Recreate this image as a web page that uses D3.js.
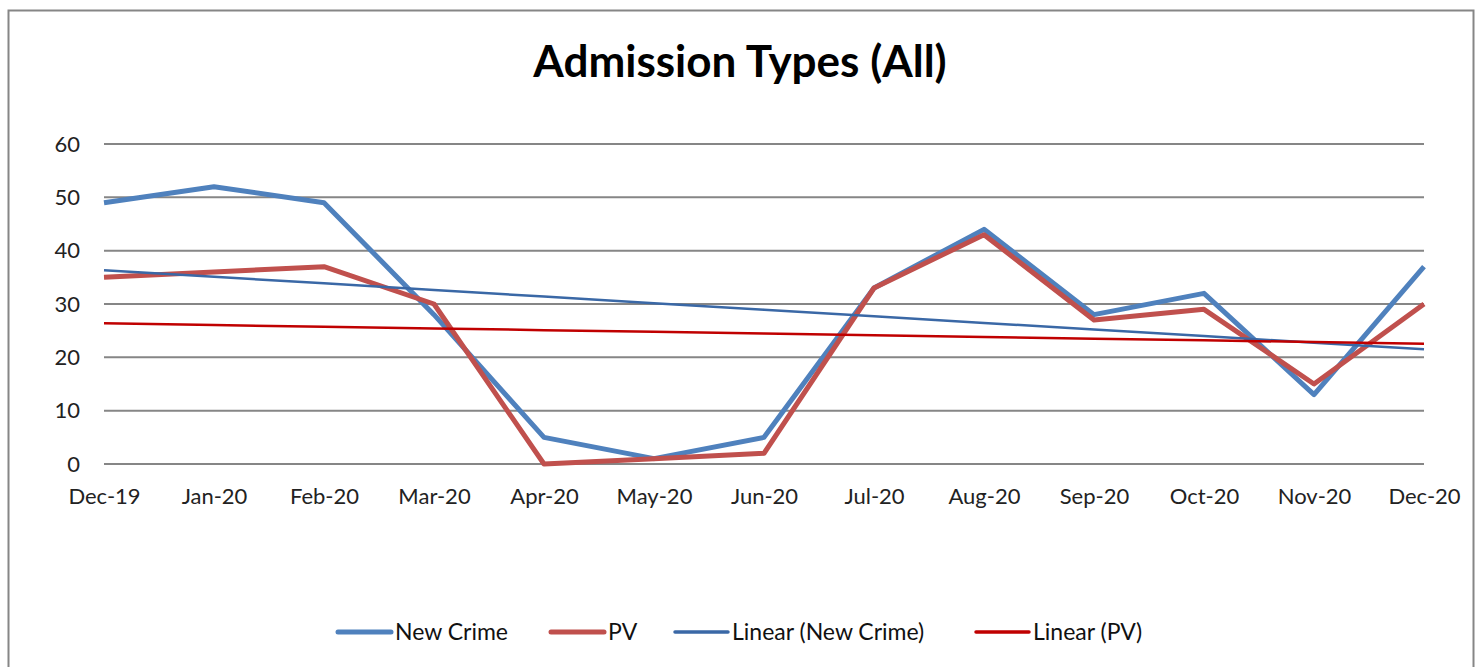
<!DOCTYPE html>
<html>
<head>
<meta charset="utf-8">
<script src="https://cdn.jsdelivr.net/npm/d3@7"></script>
<style>
  body { margin: 0; background: #fff; }
  text { font-family: Lato, "Open Sans", sans-serif; }
</style>
</head>
<body>
<svg id="chart" width="1478" height="667"></svg>
<script>
var months = ["Dec-19", "Jan-20", "Feb-20", "Mar-20", "Apr-20", "May-20", "Jun-20",
              "Jul-20", "Aug-20", "Sep-20", "Oct-20", "Nov-20", "Dec-20"];
var newCrime = [49, 52, 49, 28, 5, 1, 5, 33, 44, 28, 32, 13, 37];
var pv = [35, 36, 37, 30, 0, 1, 2, 33, 43, 27, 29, 15, 30];
var yTicks = [0, 10, 20, 30, 40, 50, 60];

// least squares trend, like Excel's linear trendline
function trend(vals) {
  var mx = d3.mean(vals, function(d, i) { return i; }),
      my = d3.mean(vals),
      sxy = 0, sxx = 0;
  vals.forEach(function(v, i) { sxy += (i - mx) * (v - my); sxx += (i - mx) * (i - mx); });
  var b = sxy / sxx, a = my - b * mx;
  return vals.map(function(v, i) { return a + b * i; });
}

var svg = d3.select("#chart"),
    margin = {top: 144, right: 54, bottom: 203, left: 104},
    width = 1478 - margin.left - margin.right,
    height = 667 - margin.top - margin.bottom;

// outer frame
svg.append("rect")
  .attr("x", 8.5).attr("y", 10.5)
  .attr("width", 1465).attr("height", 680)
  .attr("fill", "none").attr("stroke", "#868686").attr("stroke-width", 2);

svg.append("text")
  .attr("x", 740).attr("y", 77)
  .attr("text-anchor", "middle")
  .attr("font-size", 44).attr("font-weight", "bold")
  .attr("fill", "#000")
  .text("Admission Types (All)");

var g = svg.append("g").attr("transform", "translate(" + margin.left + "," + margin.top + ")");

var x = d3.scalePoint().domain(months).range([0, width]);
var y = d3.scaleLinear().domain([0, 60]).range([height, 0]);

// gridlines
g.append("g")
  .selectAll("line")
  .data(yTicks)
  .enter().append("line")
  .attr("x1", 0).attr("x2", width)
  .attr("y1", function(d) { return y(d); })
  .attr("y2", function(d) { return y(d); })
  .attr("stroke", "#868686").attr("stroke-width", 2);

var yAxis = g.append("g")
  .call(d3.axisLeft(y).tickValues(yTicks).tickSize(0).tickPadding(24));
yAxis.select(".domain").remove();
yAxis.selectAll("text").attr("font-size", 22).attr("fill", "#222").attr("font-family", "Lato, sans-serif");

var xAxis = g.append("g")
  .attr("transform", "translate(0," + height + ")")
  .call(d3.axisBottom(x).tickSize(0).tickPadding(24));
xAxis.select(".domain").remove();
xAxis.selectAll("text").attr("font-size", 22).attr("fill", "#222").attr("font-family", "Lato, sans-serif");

var line = d3.line()
  .x(function(d, i) { return x(months[i]); })
  .y(function(d) { return y(d); });

var series = [
  {name: "Linear (New Crime)", values: trend(newCrime), color: "#3a68a6", w: 2.5},
  {name: "Linear (PV)", values: trend(pv), color: "#c00000", w: 2.5},
  {name: "New Crime", values: newCrime, color: "#4f81bd", w: 5},
  {name: "PV", values: pv, color: "#c0504d", w: 5}
];

// draw order: data lines first, trend lines on top
[series[2], series[3], series[0], series[1]].forEach(function(s) {
  g.append("path")
    .datum(s.values)
    .attr("d", line)
    .attr("fill", "none")
    .attr("stroke", s.color)
    .attr("stroke-width", s.w)
    .attr("stroke-linejoin", "round");
});

// legend
var legendItems = [
  {s: series[2], x: 338},
  {s: series[3], x: 551},
  {s: series[0], x: 675},
  {s: series[1], x: 976}
];
var lg = svg.append("g");
legendItems.forEach(function(it) {
  lg.append("line")
    .attr("x1", it.x).attr("x2", it.x + 53)
    .attr("y1", 632).attr("y2", 632)
    .attr("stroke", it.s.color)
    .attr("stroke-width", it.s.w === 5 ? 5 : 3.5)
    .attr("stroke-linecap", "round");
  lg.append("text")
    .attr("x", it.x + 57).attr("y", 640)
    .attr("font-size", 23).attr("fill", "#111")
    .text(it.s.name);
});
</script>
</body>
</html>
